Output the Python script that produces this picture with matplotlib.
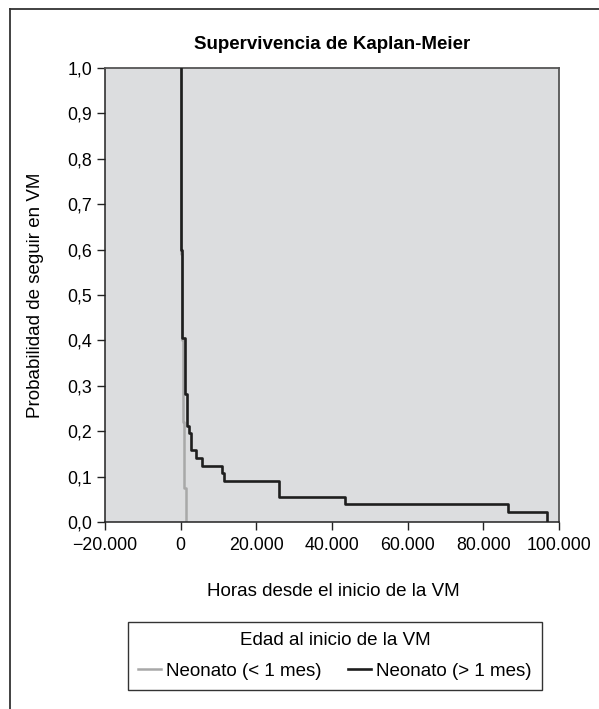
import matplotlib.pyplot as plt
from matplotlib.lines import Line2D

plt.rcParams['font.family'] = ['Liberation Sans', 'DejaVu Sans']

# Kaplan-Meier steps (hours, survival)
neo_menor_t = [0, 150, 450, 600, 970, 1490]
neo_menor_s = [1.0, 0.59, 0.40, 0.22, 0.075, 0.0]

neo_mayor_t = [0, 200, 450, 1100, 1650, 2170, 2800, 4100, 5760,
               10800, 11500, 26100, 43400, 86600, 96900]
neo_mayor_s = [1.0, 0.599, 0.405, 0.282, 0.212, 0.196, 0.159, 0.141, 0.123,
               0.108, 0.090, 0.056, 0.040, 0.023, 0.0]

x_ticks = [-20000, 0, 20000, 40000, 60000, 80000, 100000]
x_labels = ['\u221220.000', '0', '20.000', '40.000', '60.000', '80.000', '100.000']
y_ticks = [0.0, 0.1, 0.2, 0.3, 0.4, 0.5, 0.6, 0.7, 0.8, 0.9, 1.0]
y_labels = ['0,0', '0,1', '0,2', '0,3', '0,4', '0,5', '0,6', '0,7', '0,8', '0,9', '1,0']

W, H = 599, 709
fig = plt.figure(figsize=(W / 100, H / 100), dpi=100)
ax = fig.add_axes([105 / W, 1 - 522 / H, (559 - 105) / W, (522 - 68) / H])
ax.set_facecolor('#dcdddf')

ax.step(neo_menor_t, neo_menor_s, where='post', color='#a8a8a8', lw=1.8,
        label='Neonato (< 1 mes)', zorder=2)
ax.step(neo_mayor_t, neo_mayor_s, where='post', color='#1e1e1e', lw=1.9,
        label='Neonato (> 1 mes)', zorder=3)

ax.set_xlim(-20000, 100000)
ax.set_ylim(0, 1.0)
ax.set_xticks(x_ticks)
ax.set_xticklabels(x_labels)
ax.set_yticks(y_ticks)
ax.set_yticklabels(y_labels)
ax.tick_params(direction='out', length=6, width=1, labelsize=12.8, color='#222222')
ax.tick_params(axis='x', pad=5)
ax.tick_params(axis='y', pad=3)

for side in ['top', 'right']:
    ax.spines[side].set_color('#555555')
    ax.spines[side].set_linewidth(1.3)
for side in ['left', 'bottom']:
    ax.spines[side].set_color('#222222')
    ax.spines[side].set_linewidth(1.1)

ax.set_title('Supervivencia de Kaplan-Meier', fontsize=13.5, fontweight='bold', pad=14)
fig.text(333 / W, 1 - 592 / H, 'Horas desde el inicio de la VM', ha='center', va='center',
         fontsize=13.5)
fig.text(36 / W, 1 - 295 / H, 'Probabilidad de seguir en VM', ha='center', va='center',
         rotation=90, fontsize=13.5)

leg = fig.legend(loc='center', bbox_to_anchor=(335 / W, 1 - 656 / H), ncol=2,
                 title='Edad al inicio de la VM', fontsize=13.5, title_fontsize=13.5,
                 frameon=True, fancybox=False, edgecolor='#333333', framealpha=1,
                 handlelength=1.2, handletextpad=0.3, columnspacing=1.4,
                 borderpad=0.55, labelspacing=0.3, borderaxespad=0)
leg.get_frame().set_linewidth(1.0)
leg._legend_box.sep = 10

# outer frame of the figure (top and left edges)
fig.add_artist(Line2D([10 / W, 1], [1 - 9 / H, 1 - 9 / H], color='#333333', lw=1.3))
fig.add_artist(Line2D([10 / W, 10 / W], [0, 1 - 9 / H], color='#333333', lw=1.3))

fig.savefig('out.png', dpi=100)
